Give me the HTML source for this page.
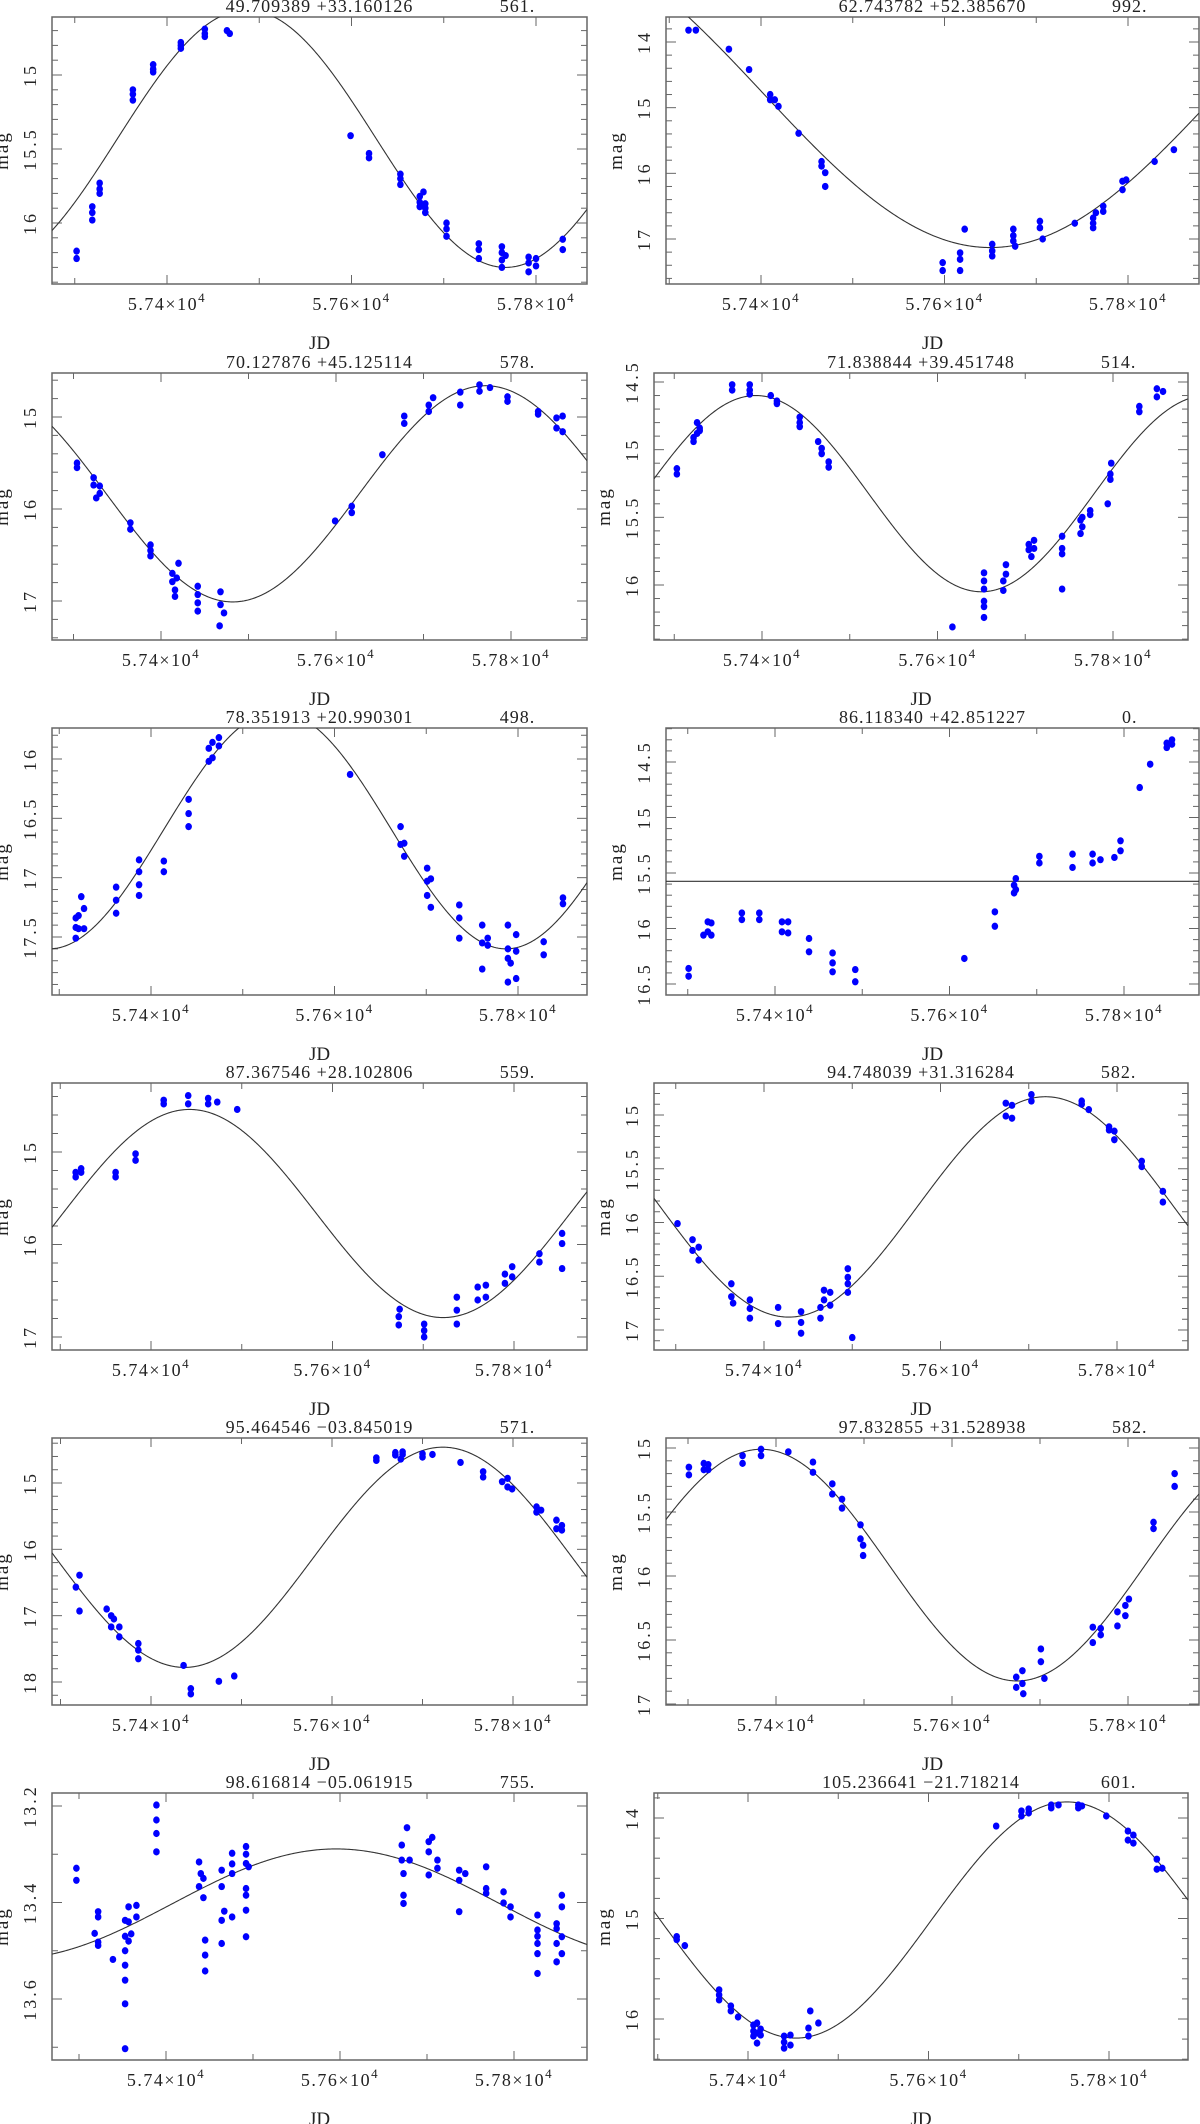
<!DOCTYPE html>
<html><head><meta charset="utf-8">
<style>
html,body{margin:0;padding:0;background:#fff;}
svg{display:block;}
text{font-family:"Liberation Serif",serif;fill:#222;}
</style></head>
<body>
<svg id="fig" width="1200" height="2124" viewBox="0 0 1200 2124" xmlns="http://www.w3.org/2000/svg"></svg>
<script>
// ---- data: [JD, mag] observations and sinusoid fit params [mean, amplitude, period, t_faint] ----
const p1_pts=[[57302,16.19],[57302,16.24],[57319,15.89],[57319,15.93],[57319,15.98],[57327,15.73],[57327,15.77],[57327,15.80],[57363,15.10],[57363,15.13],[57363,15.17],[57385,14.93],[57385,14.96],[57385,14.98],[57415,14.78],[57415,14.80],[57415,14.82],[57441,14.69],[57441,14.72],[57441,14.74],[57465,14.70],[57468,14.72],[57599,15.41],[57619,15.53],[57619,15.56],[57653,15.67],[57653,15.70],[57653,15.74],[57674,15.82],[57674,15.86],[57674,15.89],[57678,15.79],[57680,15.87],[57680,15.90],[57680,15.93],[57703,16.00],[57703,16.04],[57703,16.09],[57738,16.14],[57738,16.18],[57738,16.24],[57763,16.16],[57763,16.20],[57763,16.25],[57763,16.30],[57767,16.22],[57792,16.23],[57792,16.27],[57792,16.33],[57800,16.24],[57800,16.29],[57829,16.11],[57829,16.18]];
const p1_fit=[15.43,0.87,561,57767];
const p2_pts=[[57321,13.82],[57329,13.82],[57365,14.11],[57387,14.42],[57410,14.80],[57410,14.88],[57415,14.88],[57419,14.98],[57441,15.39],[57466,15.82],[57466,15.89],[57470,15.99],[57470,16.20],[57598,17.36],[57598,17.48],[57617,17.21],[57617,17.31],[57617,17.48],[57622,16.85],[57652,17.08],[57652,17.18],[57652,17.26],[57675,16.85],[57675,16.95],[57675,17.03],[57677,17.11],[57704,16.73],[57704,16.83],[57707,17.0],[57742,16.76],[57762,16.68],[57762,16.76],[57762,16.83],[57765,16.60],[57773,16.50],[57773,16.58],[57794,16.12],[57794,16.25],[57798,16.10],[57829,15.82],[57850,15.64]];
const p2_fit=[14.776,2.354,992,57650];
const p3_pts=[[57304,15.50],[57304,15.55],[57323,15.66],[57323,15.74],[57326,15.88],[57330,15.75],[57330,15.83],[57365,16.15],[57365,16.22],[57388,16.39],[57388,16.45],[57388,16.51],[57413,16.70],[57413,16.79],[57416,16.88],[57416,16.95],[57420,16.59],[57418,16.75],[57442,16.84],[57442,16.93],[57442,17.02],[57442,17.11],[57468,16.90],[57468,17.04],[57467,17.27],[57472,17.13],[57599,16.13],[57618,15.97],[57618,16.04],[57653,15.41],[57678,14.99],[57678,15.07],[57706,14.87],[57706,14.94],[57711,14.79],[57742,14.73],[57742,14.87],[57764,14.65],[57764,14.72],[57776,14.68],[57796,14.78],[57796,14.83],[57831,14.94],[57831,14.97],[57852,15.01],[57852,15.12],[57859,14.99],[57859,15.16]];
const p3_fit=[15.835,1.175,578,57482];
const p4_pts=[[57303,15.14],[57303,15.18],[57322,14.91],[57322,14.94],[57326,14.80],[57326,14.88],[57329,14.84],[57329,14.86],[57366,14.52],[57366,14.56],[57386,14.52],[57386,14.56],[57386,14.59],[57410,14.60],[57417,14.64],[57417,14.66],[57443,14.76],[57443,14.80],[57443,14.83],[57464,14.94],[57468,14.99],[57468,15.03],[57476,15.09],[57476,15.13],[57617,16.31],[57653,15.91],[57653,15.97],[57653,16.03],[57653,16.12],[57653,16.16],[57653,16.24],[57675,15.97],[57675,16.04],[57678,15.85],[57678,15.92],[57704,15.70],[57704,15.74],[57707,15.79],[57710,15.67],[57710,15.73],[57742,15.64],[57742,15.73],[57742,15.77],[57742,16.03],[57763,15.52],[57763,15.62],[57765,15.50],[57765,15.57],[57774,15.45],[57774,15.48],[57794,15.40],[57797,15.18],[57797,15.22],[57798,15.10],[57830,14.68],[57830,14.72],[57850,14.55],[57850,14.61],[57857,14.57]];
const p4_fit=[15.325,0.725,514,57650];
const p5_pts=[[57318,17.34],[57318,17.42],[57318,17.51],[57321,17.32],[57321,17.43],[57324,17.16],[57327,17.26],[57327,17.43],[57362,17.08],[57362,17.19],[57362,17.30],[57387,16.85],[57387,16.95],[57387,17.06],[57387,17.15],[57414,16.86],[57414,16.95],[57441,16.34],[57441,16.46],[57441,16.57],[57463,15.91],[57463,16.02],[57467,15.86],[57467,15.99],[57474,15.82],[57474,15.89],[57617,16.13],[57672,16.57],[57672,16.72],[57676,16.71],[57676,16.82],[57701,16.92],[57701,17.03],[57701,17.15],[57705,17.01],[57705,17.25],[57736,17.23],[57736,17.34],[57736,17.51],[57761,17.40],[57761,17.55],[57761,17.77],[57767,17.51],[57767,17.57],[57789,17.40],[57789,17.60],[57789,17.68],[57789,17.88],[57792,17.72],[57798,17.48],[57798,17.62],[57798,17.85],[57828,17.54],[57828,17.65],[57849,17.17],[57849,17.22]];
const p5_fit=[16.6,1.0,498,57787];
const p6_pts=[[57301,16.36],[57301,16.43],[57318,16.06],[57323,15.94],[57323,16.03],[57327,15.95],[57327,16.06],[57362,15.86],[57362,15.92],[57382,15.86],[57382,15.92],[57408,15.94],[57408,16.03],[57415,15.94],[57415,16.04],[57439,16.09],[57439,16.21],[57466,16.22],[57466,16.31],[57466,16.39],[57492,16.37],[57492,16.48],[57617,16.27],[57652,15.85],[57652,15.98],[57674,15.61],[57674,15.68],[57676,15.55],[57676,15.65],[57703,15.35],[57703,15.41],[57741,15.33],[57741,15.45],[57764,15.33],[57764,15.41],[57773,15.38],[57789,15.36],[57796,15.21],[57796,15.30],[57818,14.73],[57830,14.52],[57849,14.33],[57849,14.37],[57855,14.30],[57855,14.34]];
const p6_fit=[15.575,0,1,0];
const p7_pts=[[57317,15.22],[57317,15.27],[57323,15.18],[57323,15.22],[57361,15.22],[57361,15.27],[57383,15.02],[57383,15.09],[57414,14.44],[57414,14.48],[57441,14.39],[57441,14.48],[57463,14.42],[57463,14.48],[57473,14.46],[57495,14.54],[57673,16.78],[57673,16.87],[57674,16.70],[57701,16.86],[57701,16.93],[57701,17.00],[57737,16.57],[57737,16.71],[57737,16.86],[57760,16.46],[57760,16.60],[57769,16.44],[57769,16.57],[57790,16.32],[57790,16.42],[57798,16.24],[57798,16.35],[57828,16.10],[57828,16.19],[57853,15.88],[57853,15.99],[57853,16.26]];
const p7_fit=[15.665,1.125,559,57722];
const p8_pts=[[57302,16.01],[57319,16.16],[57319,16.26],[57326,16.23],[57326,16.35],[57363,16.57],[57363,16.69],[57365,16.75],[57384,16.72],[57384,16.80],[57384,16.89],[57416,16.79],[57416,16.94],[57442,16.83],[57442,16.93],[57442,17.03],[57464,16.79],[57464,16.89],[57468,16.63],[57468,16.72],[57475,16.65],[57475,16.77],[57495,16.43],[57495,16.51],[57495,16.57],[57495,16.65],[57500,17.07],[57674,14.89],[57674,15.01],[57681,14.91],[57681,15.03],[57703,14.81],[57703,14.87],[57760,14.87],[57760,14.90],[57768,14.95],[57791,15.11],[57791,15.14],[57797,15.15],[57797,15.23],[57828,15.43],[57828,15.48],[57852,15.71],[57852,15.81]];
const p8_fit=[15.855,1.025,582,57428];
const p9_pts=[[57317,16.57],[57321,16.39],[57321,16.93],[57351,16.90],[57356,17.00],[57356,17.17],[57359,17.05],[57365,17.17],[57365,17.32],[57386,17.42],[57386,17.52],[57386,17.65],[57436,17.75],[57444,18.10],[57444,18.18],[57475,17.99],[57492,17.91],[57649,14.62],[57649,14.66],[57670,14.54],[57670,14.58],[57676,14.64],[57678,14.53],[57678,14.57],[57700,14.56],[57700,14.61],[57711,14.57],[57742,14.69],[57767,14.83],[57767,14.91],[57788,14.98],[57794,14.93],[57794,15.06],[57799,15.09],[57826,15.36],[57826,15.44],[57831,15.41],[57848,15.56],[57848,15.69],[57854,15.64],[57854,15.71]];
const p9_fit=[16.12,1.66,571,57437];
const p10_pts=[[57301,15.15],[57301,15.21],[57318,15.12],[57318,15.17],[57323,15.13],[57323,15.17],[57362,15.06],[57362,15.12],[57383,15.01],[57383,15.06],[57414,15.03],[57442,15.11],[57442,15.19],[57464,15.28],[57464,15.36],[57475,15.40],[57475,15.47],[57496,15.60],[57496,15.71],[57499,15.76],[57499,15.84],[57673,16.79],[57673,16.87],[57680,16.74],[57680,16.84],[57681,16.92],[57701,16.57],[57701,16.67],[57705,16.80],[57760,16.40],[57760,16.52],[57769,16.41],[57769,16.46],[57788,16.28],[57788,16.39],[57797,16.23],[57797,16.31],[57801,16.18],[57829,15.58],[57829,15.63],[57853,15.20],[57853,15.30]];
const p10_fit=[15.915,0.905,582,57674];
const p11_pts=[[57297,13.329],[57297,13.354],[57318,13.464],[57322,13.419],[57322,13.430],[57322,13.482],[57322,13.489],[57339,13.518],[57353,13.437],[57353,13.47],[57353,13.50],[57353,13.53],[57353,13.561],[57353,13.610],[57353,13.703],[57357,13.409],[57357,13.44],[57357,13.48],[57360,13.465],[57366,13.406],[57366,13.43],[57389,13.198],[57389,13.229],[57389,13.257],[57389,13.295],[57438,13.316],[57438,13.367],[57440,13.34],[57443,13.35],[57443,13.39],[57445,13.478],[57445,13.509],[57445,13.542],[57464,13.333],[57464,13.367],[57464,13.437],[57464,13.485],[57467,13.418],[57476,13.298],[57476,13.32],[57476,13.34],[57476,13.430],[57492,13.284],[57492,13.30],[57492,13.319],[57492,13.371],[57492,13.385],[57492,13.416],[57492,13.471],[57495,13.326],[57671,13.281],[57671,13.312],[57673,13.34],[57673,13.385],[57673,13.402],[57677,13.245],[57680,13.312],[57702,13.274],[57702,13.295],[57702,13.343],[57706,13.265],[57712,13.312],[57712,13.329],[57737,13.333],[57737,13.354],[57737,13.419],[57744,13.34],[57768,13.326],[57768,13.371],[57768,13.381],[57788,13.378],[57788,13.401],[57796,13.409],[57796,13.43],[57827,13.426],[57827,13.457],[57827,13.47],[57827,13.485],[57827,13.506],[57827,13.547],[57849,13.444],[57849,13.454],[57849,13.485],[57849,13.523],[57855,13.385],[57855,13.409],[57855,13.471],[57855,13.506]];
const p11_fit=[13.403,0.114,755,57218];
const p12_pts=[[57321,15.18],[57321,15.21],[57330,15.27],[57368,15.71],[57368,15.76],[57368,15.81],[57381,15.87],[57381,15.92],[57389,15.98],[57406,16.06],[57406,16.12],[57406,16.17],[57410,16.04],[57410,16.14],[57410,16.24],[57414,16.10],[57414,16.16],[57440,16.17],[57440,16.23],[57440,16.29],[57447,16.16],[57447,16.26],[57467,16.09],[57467,16.17],[57469,15.92],[57478,16.04],[57675,14.08],[57703,13.93],[57703,13.98],[57711,13.91],[57711,13.95],[57736,13.87],[57736,13.90],[57744,13.87],[57766,13.87],[57766,13.90],[57770,13.88],[57797,13.98],[57821,14.13],[57821,14.22],[57827,14.17],[57827,14.25],[57853,14.41],[57853,14.51],[57859,14.50]];
const p12_fit=[15.015,1.175,601,57453];

const titles=["49.709389  +33.160126","62.743782  +52.385670","70.127876  +45.125114","71.838844  +39.451748","78.351913  +20.990301","86.118340  +42.851227","87.367546  +28.102806","94.748039  +31.316284","95.464546  \u221203.845019","97.832855  +31.528938","98.616814  \u221205.061915","105.236641  \u221221.718214"];
const periodLabels=["561.","992.","578.","514.","498.","0.","559.","582.","571.","582.","755.","601."];
const yLabelVals=[[15,15.5,16],[14,15,16,17],[15,16,17],[14.5,15,15.5,16],[16,16.5,17,17.5],[14.5,15,15.5,16,16.5],[15,16,17],[15,15.5,16,16.5,17],[15,16,17,18],[15,15.5,16,16.5,17],[13.2,13.4,13.6],[14,15,16]];
const xLabelVals=[57400,57600,57800];
const allPts=[p1_pts,p2_pts,p3_pts,p4_pts,p5_pts,p6_pts,p7_pts,p8_pts,p9_pts,p10_pts,p11_pts,p12_pts];
const allFits=[p1_fit,p2_fit,p3_fit,p4_fit,p5_fit,p6_fit,p7_fit,p8_fit,p9_fit,p10_fit,p11_fit,p12_fit];

// ---- layout (pixel geometry, not data) ----
const layout=[
 {box:[52,587,17,284],xc:[167,536],yc:[15,75,16,223],minor:0.1},
 {box:[666,1199,17,284],xc:[761,1128],yc:[14,42,17,239],minor:0.2},
 {box:[52,587,373,640],xc:[161,511],yc:[15,417,17,601],minor:0.2},
 {box:[654,1188,373,640],xc:[762,1113],yc:[14.5,382,16,585],minor:0.1},
 {box:[52,587,728,995],xc:[151,518],yc:[16,759,17.5,937],minor:0.1},
 {box:[666,1199,728,995],xc:[775,1124],yc:[14.5,762,16.5,984],minor:0.1},
 {box:[52,587,1083,1350],xc:[151,514],yc:[15,1152,17,1337],minor:0.2},
 {box:[654,1188,1083,1350],xc:[764,1117],yc:[15,1115,17,1330],minor:0.1},
 {box:[52,587,1438,1705],xc:[151,513],yc:[15,1483,18,1682],minor:0.2},
 {box:[666,1199,1438,1705],xc:[776,1128],yc:[15,1448,17,1704],minor:0.1},
 {box:[52,587,1793,2060],xc:[166,514],yc:[13.2,1806,13.6,1999],minor:0.1},
 {box:[654,1188,1793,2060],xc:[748,1109],yc:[14,1818,16,2019],minor:0.2}
];

const NS="http://www.w3.org/2000/svg";
const svg=document.getElementById('fig');
function mk(tag,attrs,parent){const e=document.createElementNS(NS,tag);for(const k in attrs)e.setAttribute(k,attrs[k]);(parent||svg).appendChild(e);return e;}

layout.forEach((L,i)=>{
  const [x0,x1,y0,y1]=L.box;
  const g=mk('g',{});
  
  
  const sx=(L.xc[1]-L.xc[0])/400;
  const X=jd=>L.xc[0]+(jd-57400)*sx;
  const JD=px=>57400+(px-L.xc[0])/sx;
  const sy=(L.yc[3]-L.yc[1])/(L.yc[2]-L.yc[0]);
  const Y=m=>L.yc[1]+(m-L.yc[0])*sy;
  const M=py=>L.yc[0]+(py-L.yc[1])/sy;
  const cx=(x0+x1)/2;

  const t=mk('text',{x:cx,y:y0-5,'text-anchor':'middle','font-size':18,'letter-spacing':'1'},g);
  t.textContent=titles[i];
  
  
  const pl=mk('text',{x:x0+(x1-x0)*0.87,y:y0-5,'text-anchor':'middle','font-size':18,'letter-spacing':'1'},g);
  pl.textContent=periodLabels[i];
  
  

  const cp=mk('clipPath',{id:'clip'+i},g);
  mk('rect',{x:x0,y:y0,width:x1-x0,height:y1-y0},cp);

  const fr=mk('rect',{x:x0,y:y0,width:x1-x0,height:y1-y0,fill:'none',stroke:'#666','stroke-width':1.5},g);
  
  

  const jdStart=Math.ceil(JD(x0)/100)*100;
  for(let jd=jdStart;X(jd)<=x1;jd+=100){
    const px=X(jd);
    const len=(xLabelVals.indexOf(jd)>=0)?9:6;
    mk('line',{x1:px,x2:px,y1:y1,y2:y1-len,stroke:'#666','stroke-width':1},g);
    mk('line',{x1:px,x2:px,y1:y0,y2:y0+len,stroke:'#666','stroke-width':1},g);
  }
  xLabelVals.forEach(v=>{
    const tx=mk('text',{x:X(v),y:y1+26,'text-anchor':'middle','font-size':18,'letter-spacing':'1.5'},g);
    tx.textContent=(v/1e4).toFixed(2)+'\u00d710';
    const sp=mk('tspan',{dy:-8,'font-size':13},tx);
    sp.textContent='4';
    
    
  });
  const xt=mk('text',{x:cx,y:y1+65,'text-anchor':'middle','font-size':19},g);
  xt.textContent='JD';
  
  

  const mTop=M(y0),mBot=M(y1);
  const st=L.minor;
  for(let k=Math.ceil(mTop/st-1e-6);k*st<=mBot+1e-9;k++){
    const m=k*st;const py=Y(m);
    const major=yLabelVals[i].some(v=>Math.abs(v-m)<1e-6);
    const len=major?10:6;
    mk('line',{x1:x0,x2:x0+len,y1:py,y2:py,stroke:'#666','stroke-width':1},g);
    mk('line',{x1:x1,x2:x1-len,y1:py,y2:py,stroke:'#666','stroke-width':1},g);
  }
  yLabelVals[i].forEach(v=>{
    const py=Y(v),lx=x0-16;
    const ty=mk('text',{x:lx,y:py,'text-anchor':'middle','font-size':18,'letter-spacing':'3',transform:'rotate(-90 '+lx+' '+py+')'},g);
    ty.textContent=String(v);
    
    
  });
  const ya=x0-44, yc=(y0+y1)/2;
  const yt=mk('text',{x:ya,y:yc,'text-anchor':'middle','font-size':19,'letter-spacing':'2',transform:'rotate(-90 '+ya+' '+yc+')'},g);
  yt.textContent='mag';
  
  

  const f=allFits[i];
  let d='';
  for(let px=x0;px<=x1;px+=1){
    const jd=JD(px);
    const m=f[1]===0?f[0]:f[0]+f[1]*Math.cos(2*Math.PI*(jd-f[3])/f[2]);
    d+=(px===x0?'M':'L')+px.toFixed(1)+','+Y(m).toFixed(2);
  }
  const cv=mk('path',{d:d,fill:'none',stroke:'#333','stroke-width':1.1,'clip-path':'url(#clip'+i+')'},g);
  
  

  const pg=mk('g',{'clip-path':'url(#clip'+i+')'},g);
  
  
  allPts[i].forEach(p=>{
    const c=mk('ellipse',{cx:X(p[0]),cy:Y(p[1]),rx:3.3,ry:3.6,fill:'#0000ff'},pg);
    
    
  });
});
</script>
</body></html>
